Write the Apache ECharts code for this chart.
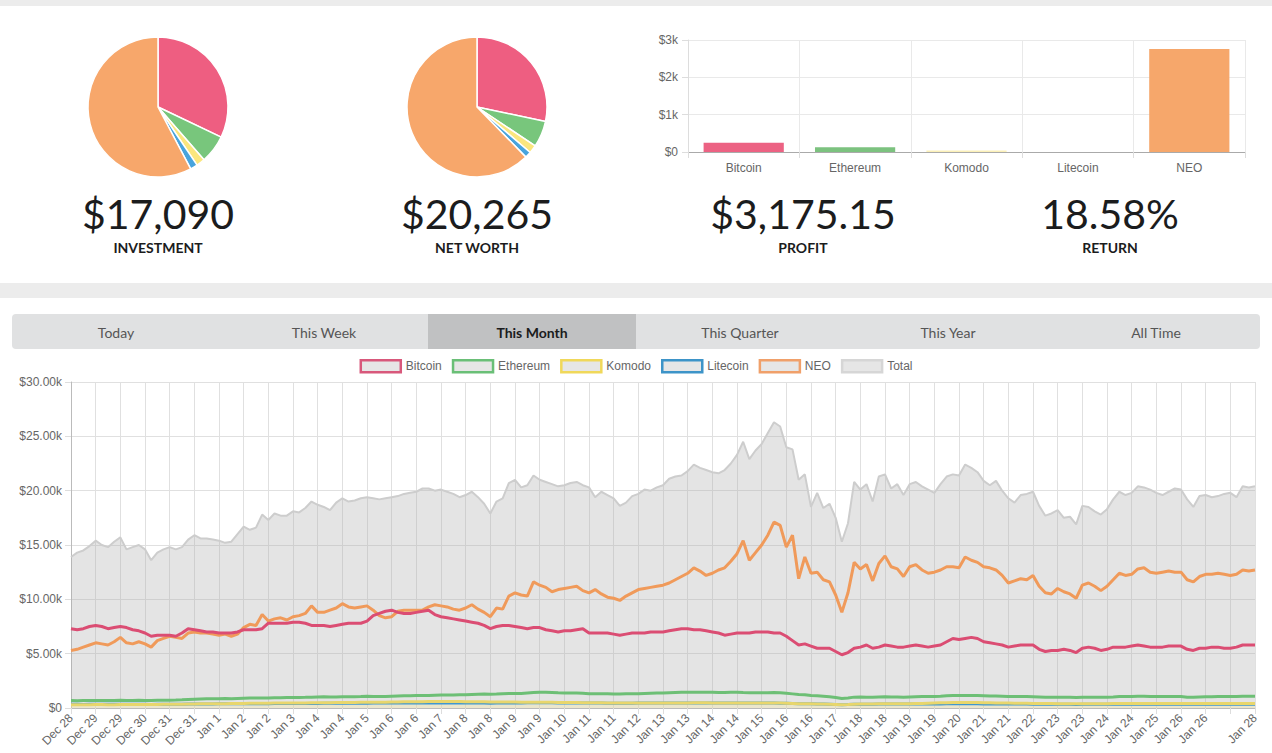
<!DOCTYPE html>
<html>
<head>
<meta charset="utf-8">
<script src="https://cdn.jsdelivr.net/npm/echarts@6/dist/echarts.min.js"></script>
<style>
html,body{margin:0;padding:0;background:#fff;}
#c{width:1272px;height:753px;}
</style>
</head>
<body>
<div id="c"></div>
<script>
// ---------- data ----------
const coins = ['Bitcoin','Ethereum','Komodo','Litecoin','NEO'];
const investment = [5485,1110,340,290,9865];
const netWorth = [5735,1235,380,290,12625];
const profit = [250,125,40,0,2760.15];
const statValues = ['$17,090','$20,265','$3,175.15','18.58%'];
const statLabels = ['INVESTMENT','NET WORTH','PROFIT','RETURN'];
const tabNames = ['Today','This Week','This Month','This Quarter','This Year','All Time'];
const activeTab = 2;
const tickLabels = ['Dec 28','Dec 29','Dec 29','Dec 30','Dec 31','Dec 31','Jan 1','Jan 2','Jan 2','Jan 3','Jan 4','Jan 4','Jan 5','Jan 6','Jan 6','Jan 7','Jan 8','Jan 8','Jan 9','Jan 9','Jan 10','Jan 11','Jan 11','Jan 12','Jan 13','Jan 13','Jan 14','Jan 14','Jan 15','Jan 16','Jan 16','Jan 17','Jan 18','Jan 18','Jan 19','Jan 19','Jan 20','Jan 21','Jan 21','Jan 22','Jan 23','Jan 23','Jan 24','Jan 24','Jan 25','Jan 26','Jan 26','','Jan 28'];
const pointsPerTick = 4;
// values in $k
const totalK = [13.9,14.3,14.5,14.9,15.4,15.0,14.8,15.3,15.7,14.6,14.8,15.0,
14.6,13.6,14.3,14.6,14.8,14.6,14.8,15.5,15.9,15.6,15.6,15.5,
15.4,15.2,15.3,16.0,16.7,16.4,16.6,17.8,17.3,17.9,17.7,17.7,
18.1,18.0,18.4,19.0,18.7,18.5,18.2,18.9,19.3,19.0,19.1,19.3,
19.4,19.3,19.2,19.3,19.4,19.5,19.7,19.8,19.9,20.2,20.2,20.0,
20.1,19.9,19.7,19.4,19.6,19.9,19.4,18.8,17.9,19.0,19.3,20.7,
21.0,20.3,20.5,21.4,21.0,20.8,20.6,20.4,20.5,20.7,20.8,20.5,
20.3,19.4,19.9,19.6,19.3,18.6,18.9,19.5,19.7,20.1,20.0,20.3,
20.5,21.1,21.3,21.4,21.8,22.4,22.1,21.9,21.7,21.6,21.9,22.5,
23.3,24.5,22.9,23.7,24.3,25.3,26.3,25.9,24.0,23.8,21.0,21.5,
18.5,19.8,18.4,18.8,17.5,15.3,17.0,20.8,20.1,20.6,19.0,21.3,
21.5,20.2,20.6,19.6,20.6,20.8,20.4,20.1,19.8,20.6,21.3,21.5,
21.4,22.4,22.1,21.7,20.9,20.5,20.9,20.0,19.3,18.9,19.6,19.7,
19.9,18.6,17.7,17.9,18.2,17.5,17.6,16.9,18.6,18.5,18.1,17.8,
18.3,19.2,19.9,19.6,19.8,20.4,20.3,20.1,19.8,19.6,19.9,20.2,
20.1,19.2,18.5,19.5,19.6,19.4,19.5,19.7,19.8,19.4,20.4,20.3,20.4];
const neoK = [5.3,5.4,5.6,5.8,6.0,5.9,5.8,6.1,6.5,6.0,5.9,6.1,
5.9,5.6,6.2,6.4,6.6,6.5,6.4,6.9,7.0,6.9,6.9,6.8,
6.7,6.8,6.6,6.8,7.4,7.7,7.6,8.6,8.0,8.2,8.3,8.1,
8.4,8.5,8.7,9.4,8.8,8.8,9.0,9.2,9.6,9.3,9.2,9.3,
9.4,9.0,8.5,8.3,8.4,8.9,9.0,9.0,9.0,9.0,9.3,9.5,
9.4,9.3,9.1,9.0,9.2,9.5,9.1,8.8,8.4,9.2,9.1,10.3,
10.6,10.4,10.3,11.6,11.3,11.1,10.7,10.9,11.0,11.1,11.2,10.8,
10.6,10.9,10.5,10.2,10.1,9.9,10.3,10.6,10.9,11.0,11.1,11.2,
11.3,11.5,11.8,12.1,12.4,12.9,12.6,12.2,12.4,12.7,12.9,13.5,
14.2,15.4,13.6,14.3,15.0,15.9,17.1,16.8,14.8,15.9,11.9,13.9,
12.4,12.5,11.8,11.6,10.4,8.8,10.6,13.4,12.8,13.2,11.7,13.3,
14.0,13.0,12.8,12.1,13.0,13.2,12.7,12.4,12.5,12.7,13.0,13.0,
12.9,13.9,13.6,13.4,13.0,12.9,12.7,12.2,11.5,11.7,11.9,11.8,
12.2,11.2,10.6,10.5,11.0,10.7,10.5,10.1,11.3,11.5,11.2,10.8,
11.2,11.8,12.4,12.2,12.3,12.8,12.9,12.5,12.4,12.5,12.6,12.5,
12.5,11.8,11.6,12.1,12.3,12.3,12.4,12.3,12.2,12.3,12.7,12.6,12.7];
const bitcoinK = [7.3,7.2,7.3,7.5,7.6,7.5,7.3,7.4,7.5,7.4,7.2,7.1,
6.9,6.6,6.7,6.7,6.7,6.6,6.9,7.3,7.2,7.1,7.0,7.0,
6.9,6.9,6.9,7.0,7.2,7.2,7.2,7.3,7.8,7.8,7.8,7.8,
7.9,7.9,7.8,7.6,7.6,7.6,7.5,7.6,7.7,7.8,7.8,7.8,
8.0,8.5,8.7,8.9,9.0,8.8,8.7,8.7,8.8,8.9,9.0,8.6,
8.4,8.3,8.2,8.1,8.0,7.9,7.8,7.6,7.3,7.5,7.6,7.6,
7.5,7.4,7.3,7.4,7.4,7.2,7.1,7.0,7.1,7.1,7.2,7.3,
6.9,6.9,6.9,6.9,6.8,6.7,6.8,6.9,6.9,6.9,7.0,7.0,
7.0,7.1,7.2,7.3,7.3,7.2,7.2,7.1,7.0,6.9,6.7,6.8,
6.9,6.9,6.9,7.0,7.0,7.0,6.9,6.9,6.6,6.2,5.8,5.9,
5.7,5.5,5.5,5.5,5.2,4.9,5.1,5.5,5.6,5.8,5.5,5.6,
5.8,5.7,5.6,5.6,5.7,5.8,5.7,5.6,5.7,5.8,6.1,6.4,
6.3,6.4,6.5,6.4,6.1,6.0,5.9,5.8,5.6,5.7,5.8,5.8,
5.8,5.4,5.2,5.3,5.3,5.4,5.3,5.1,5.5,5.6,5.5,5.3,
5.4,5.6,5.6,5.6,5.7,5.8,5.7,5.6,5.6,5.6,5.7,5.7,
5.7,5.4,5.3,5.5,5.5,5.6,5.6,5.5,5.5,5.6,5.8,5.8,5.8];
const ethereumK = [0.68,0.67,0.68,0.69,0.70,0.70,0.69,0.70,0.71,0.70,0.70,0.71,
0.70,0.70,0.71,0.72,0.72,0.73,0.75,0.78,0.80,0.82,0.84,0.85,
0.86,0.87,0.86,0.88,0.90,0.92,0.93,0.92,0.93,0.94,0.95,0.96,
0.96,0.97,0.98,1.00,1.02,1.03,1.02,1.02,1.03,1.04,1.04,1.05,
1.08,1.06,1.05,1.06,1.08,1.10,1.12,1.13,1.14,1.14,1.16,1.18,
1.20,1.19,1.20,1.22,1.22,1.24,1.26,1.28,1.27,1.28,1.32,1.34,
1.33,1.34,1.38,1.42,1.46,1.44,1.42,1.40,1.39,1.38,1.37,1.35,
1.32,1.30,1.31,1.30,1.28,1.29,1.30,1.30,1.32,1.34,1.36,1.37,
1.38,1.40,1.42,1.44,1.45,1.46,1.46,1.45,1.44,1.42,1.43,1.44,
1.44,1.42,1.41,1.40,1.40,1.41,1.42,1.40,1.36,1.30,1.24,1.22,
1.16,1.12,1.08,1.04,0.96,0.88,0.92,1.00,1.02,1.00,0.98,1.02,
1.04,1.02,1.02,1.00,1.02,1.04,1.05,1.06,1.06,1.08,1.12,1.14,
1.15,1.16,1.16,1.14,1.12,1.10,1.10,1.08,1.06,1.06,1.05,1.05,
1.04,1.02,1.00,1.00,0.99,0.98,0.98,0.96,1.00,1.00,1.00,0.99,
1.00,1.02,1.05,1.06,1.06,1.07,1.07,1.06,1.06,1.06,1.06,1.05,
1.05,0.98,0.98,1.02,1.04,1.04,1.05,1.06,1.06,1.06,1.07,1.08,1.08];
const komodoK = [0.30,0.30,0.31,0.31,0.32,0.32,0.31,0.31,0.32,0.32,0.32,0.33,
0.33,0.32,0.33,0.34,0.34,0.34,0.35,0.36,0.37,0.38,0.38,0.39,
0.40,0.40,0.41,0.41,0.42,0.43,0.43,0.44,0.44,0.45,0.45,0.46,
0.46,0.47,0.47,0.48,0.48,0.49,0.49,0.50,0.50,0.51,0.51,0.52,
0.52,0.53,0.53,0.54,0.55,0.56,0.57,0.58,0.58,0.58,0.59,0.60,
0.60,0.60,0.59,0.59,0.58,0.58,0.57,0.57,0.56,0.56,0.55,0.55,
0.55,0.54,0.54,0.53,0.53,0.52,0.52,0.51,0.50,0.50,0.50,0.49,
0.49,0.48,0.48,0.47,0.47,0.47,0.46,0.46,0.46,0.45,0.45,0.45,
0.45,0.46,0.46,0.47,0.47,0.48,0.48,0.48,0.47,0.47,0.46,0.46,
0.46,0.45,0.45,0.45,0.46,0.46,0.47,0.46,0.44,0.42,0.40,0.39,
0.38,0.37,0.36,0.35,0.33,0.31,0.32,0.34,0.36,0.37,0.37,0.38,
0.38,0.39,0.39,0.40,0.40,0.41,0.42,0.44,0.46,0.48,0.49,0.50,
0.50,0.51,0.51,0.50,0.49,0.48,0.47,0.46,0.45,0.44,0.43,0.43,
0.42,0.42,0.41,0.41,0.40,0.40,0.40,0.39,0.40,0.40,0.40,0.40,
0.40,0.41,0.41,0.41,0.41,0.42,0.42,0.42,0.42,0.42,0.42,0.42,
0.42,0.41,0.41,0.41,0.41,0.42,0.42,0.42,0.42,0.42,0.42,0.42,0.42];
const litecoinK = [0.34,0.34,0.33,0.34,0.35,0.35,0.34,0.34,0.35,0.35,0.35,0.34,
0.34,0.33,0.34,0.34,0.35,0.35,0.35,0.36,0.36,0.37,0.37,0.37,
0.38,0.38,0.38,0.39,0.39,0.40,0.40,0.40,0.40,0.41,0.41,0.41,
0.41,0.42,0.42,0.42,0.42,0.43,0.43,0.43,0.43,0.43,0.44,0.44,
0.44,0.45,0.45,0.45,0.46,0.46,0.46,0.46,0.47,0.47,0.47,0.47,
0.47,0.47,0.46,0.46,0.46,0.46,0.45,0.45,0.44,0.45,0.46,0.47,
0.47,0.47,0.48,0.48,0.49,0.48,0.48,0.47,0.47,0.47,0.46,0.46,
0.45,0.45,0.45,0.44,0.44,0.44,0.44,0.44,0.45,0.45,0.45,0.46,
0.46,0.46,0.47,0.47,0.47,0.47,0.47,0.47,0.46,0.46,0.46,0.46,
0.46,0.46,0.45,0.45,0.45,0.45,0.45,0.44,0.43,0.41,0.40,0.39,
0.38,0.37,0.36,0.35,0.33,0.31,0.32,0.34,0.35,0.35,0.35,0.36,
0.36,0.36,0.36,0.36,0.36,0.36,0.36,0.37,0.37,0.37,0.38,0.38,
0.38,0.38,0.38,0.38,0.37,0.37,0.37,0.36,0.36,0.36,0.36,0.36,
0.35,0.35,0.34,0.34,0.34,0.34,0.34,0.33,0.34,0.34,0.34,0.34,
0.34,0.35,0.35,0.35,0.35,0.35,0.35,0.35,0.35,0.35,0.35,0.35,
0.35,0.34,0.34,0.35,0.35,0.35,0.35,0.35,0.35,0.35,0.35,0.35,0.35];

// ---------- styles ----------
const pieColors = ['#ee5e81','#78c67c','#fbe67d','#48a4dd','#f7a76b'];
const barColors = ['#ec6283','#7cc27f','#fbf0b8','#48a4dd','#f6a76b'];
const lineColors = {Bitcoin:'#db4d73',Ethereum:'#6dbf75',Komodo:'#e8d66c',Litecoin:'#3f97cf',NEO:'#f09a5a',Total:'#cdcdcd'};
const legendBorder = {Bitcoin:'#d8587b',Ethereum:'#6abf77',Komodo:'#f0d85a',Litecoin:'#3d94c8',NEO:'#f0a06a',Total:'#d6d6d6'};
const legendOrder = ['Bitcoin','Ethereum','Komodo','Litecoin','NEO','Total'];
const axisFont = 'Liberation Sans, Arial, sans-serif';

const nPts = totalK.length;
const cats = Array.from({length:nPts},(_,i)=>String(i));
const tickEvery = (i)=> i % pointsPerTick === 0;

// ---------- graphic (cards, tabs, stats) ----------
const graphics = [
  {type:'rect', shape:{x:0,y:0,width:1272,height:6}, style:{fill:'#ececec'}, silent:true, z:-10},
  {type:'rect', shape:{x:0,y:283,width:1272,height:15}, style:{fill:'#ececec'}, silent:true, z:-10},
  {type:'rect', shape:{x:12,y:314,width:1248,height:35,r:4}, style:{fill:'#e0e1e2'}, silent:true, z:-10},
  {type:'rect', shape:{x:12+208*activeTab,y:314,width:208,height:35}, style:{fill:'#c0c1c2'}, silent:true, z:-9}
];
tabNames.forEach((t,k)=>{
  graphics.push({type:'text', x:12+208*(k+0.5), y:332, silent:true,
    style:{text:t, align:'center', verticalAlign:'middle', textAlign:'center', textVerticalAlign:'middle',
      font:(k===activeTab?'bold ':'')+'14px Lato, sans-serif', fill:k===activeTab?'#1b1c1d':'#555'}});
});
const statX = [158,477,803,1110];
statValues.forEach((v,k)=>{
  graphics.push({type:'text', x:statX[k], y:213, silent:true,
    style:{text:v, align:'center', verticalAlign:'middle', textAlign:'center', textVerticalAlign:'middle',
      font:'41px Lato, sans-serif', fill:'#1b1c1d'}});
  graphics.push({type:'text', x:statX[k], y:247, silent:true,
    style:{text:statLabels[k], align:'center', verticalAlign:'middle', textAlign:'center', textVerticalAlign:'middle',
      font:'bold 14px Lato, sans-serif', fill:'#1b1c1d'}});
});

function pieSeries(values, cx){
  return {type:'pie', center:[cx,107], radius:70, startAngle:90, clockwise:true,
    label:{show:false}, labelLine:{show:false}, silent:true, animation:false,
    itemStyle:{borderColor:'#fff', borderWidth:1.5},
    data: coins.map((c,i)=>({name:c, value:values[i], itemStyle:{color:pieColors[i]}}))};
}

const seriesDefs = [
  {name:'Total', data:totalK, w:2, area:'rgba(170,170,170,0.32)'},
  {name:'NEO', data:neoK, w:3},
  {name:'Litecoin', data:litecoinK, w:3},
  {name:'Komodo', data:komodoK, w:3, area:'rgba(250,236,160,0.35)'},
  {name:'Ethereum', data:ethereumK, w:3},
  {name:'Bitcoin', data:bitcoinK, w:3}
];

const lineSeries = seriesDefs.map(d=>({
  type:'line', name:d.name, data:d.data, xAxisIndex:1, yAxisIndex:1,
  showSymbol:false, symbol:'none', smooth:false,
  lineStyle:{color:lineColors[d.name], width:d.w},
  itemStyle:{color:lineColors[d.name]},
  areaStyle: d.area ? {color:d.area, opacity:1} : undefined,
  silent:true
}));

const option = {
  animation:false,
  textStyle:{fontFamily:axisFont},
  graphic:graphics,
  legend:{
    top:354, left:'center', icon:'rect', itemWidth:40, itemHeight:12, itemGap:10,
    textStyle:{color:'#666', fontSize:12, fontFamily:axisFont},
    selectedMode:false,
    data: legendOrder.map(n=>({name:n, itemStyle:{color:'#e6e6e6', borderColor:legendBorder[n], borderWidth:2.5}}))
  },
  grid:[
    {left:688, right:27, top:40, bottom:601, containLabel:false},
    {left:71, right:17, top:382, bottom:45, containLabel:false}
  ],
  xAxis:[
    {type:'category', gridIndex:0, data:coins, boundaryGap:true,
      axisLine:{show:true, lineStyle:{color:'#aaa'}},
      axisTick:{show:true, length:6, lineStyle:{color:'#ddd'}},
      splitLine:{show:true, lineStyle:{color:'#e9e9e9'}},
      axisLabel:{color:'#666', fontSize:12, margin:10}},
    {type:'category', gridIndex:1, data:cats, boundaryGap:false,
      axisLine:{show:true, lineStyle:{color:'#bbb'}},
      axisTick:{show:true, length:6, interval:tickEvery, lineStyle:{color:'#ddd'}},
      splitLine:{show:true, interval:tickEvery, lineStyle:{color:'#e0e0e0'}},
      axisLabel:{color:'#666', fontSize:12, rotate:45, margin:8, interval:tickEvery,
        formatter:(v,i)=> tickLabels[Math.round(i/pointsPerTick)] || ''}}
  ],
  yAxis:[
    {type:'value', gridIndex:0, min:0, max:3000, interval:1000,
      axisLine:{show:true, lineStyle:{color:'#ddd'}},
      axisTick:{show:true, length:6, lineStyle:{color:'#ddd'}},
      splitLine:{show:true, lineStyle:{color:'#e9e9e9'}},
      axisLabel:{color:'#666', fontSize:12, margin:10, formatter:v=> v===0?'$0':'$'+(v/1000)+'k'}},
    {type:'value', gridIndex:1, min:0, max:30, interval:5,
      axisLine:{show:true, lineStyle:{color:'#bbb'}},
      axisTick:{show:true, length:6, lineStyle:{color:'#ddd'}},
      splitLine:{show:true, lineStyle:{color:'#e0e0e0'}},
      axisLabel:{color:'#666', fontSize:12, margin:9, formatter:v=> v===0?'$0':'$'+v.toFixed(2)+'k'}}
  ],
  series:[
    pieSeries(investment,158),
    pieSeries(netWorth,477),
    {type:'bar', name:'Profit', xAxisIndex:0, yAxisIndex:0, barCategoryGap:'28%', silent:true,
      data: profit.map((v,i)=>({value:v, itemStyle:{color:barColors[i]}}))},
    ...lineSeries
  ]
};

const chart = echarts.init(document.getElementById('c'), null, {renderer:'svg', width:1272, height:753});
chart.setOption(option);
</script>
</body>
</html>
